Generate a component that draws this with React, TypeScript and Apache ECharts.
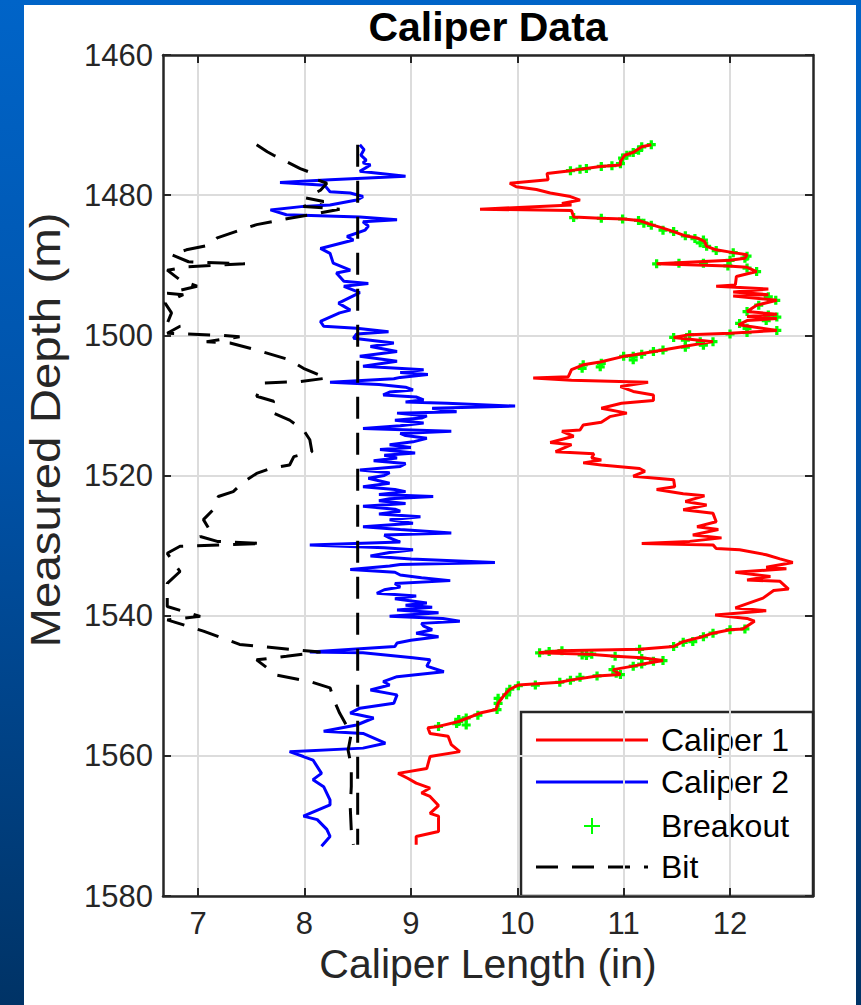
import React, { useEffect, useRef } from 'react';
import * as echarts from 'echarts';

// [caliper length (in), measured depth (m)]
const caliper1: number[][] = [
  [11.26,1472.8],[11.17,1473.1],[11.09,1473.9],[11.01,1474.3],[10.97,1475.2],[10.97,1475.7],[10.78,1475.9],[10.5,1476.5],
  [10.28,1476.9],[10.29,1477.8],[9.93,1478.3],[9.99,1478.8],[10.18,1479.2],[10.31,1479.7],[10.5,1480.2],[10.59,1480.7],
  [10.42,1481.2],[10.51,1481.4],[9.65,1482.0],[10.51,1482.2],[10.53,1483.1],[10.78,1483.3],[11.0,1483.4],[11.14,1483.6],
  [11.26,1484.2],[11.37,1484.7],[11.47,1485.2],[11.58,1485.8],[11.69,1486.1],[11.76,1486.6],[11.78,1487.3],[11.87,1487.8],
  [12.03,1488.2],[12.16,1488.5],[12.14,1489.0],[12.0,1489.3],[11.31,1489.8],[11.98,1490.1],[12.16,1490.3],[12.25,1490.9],
  [12.06,1491.6],[12.05,1492.8],[11.87,1493.0],[12.36,1493.4],[12.03,1493.8],[12.36,1494.2],[12.03,1494.4],[12.44,1495.0],
  [12.25,1495.7],[12.16,1496.6],[12.44,1497.0],[12.16,1497.3],[12.44,1497.6],[12.16,1497.9],[12.08,1498.5],[12.44,1499.3],
  [12.0,1499.7],[11.62,1499.9],[11.47,1500.3],[11.84,1500.9],[11.56,1501.6],[11.37,1502.1],[11.09,1502.8],[11.0,1503.0],
  [10.78,1503.8],[10.62,1504.2],[10.51,1504.9],[10.48,1505.9],[10.15,1506.1],[10.51,1506.4],[11.23,1506.7],[10.97,1507.3],
  [11.09,1508.0],[11.28,1508.5],[11.28,1509.3],[10.98,1509.7],[10.79,1510.4],[11.03,1511.1],[10.87,1511.6],[10.79,1512.4],
  [10.62,1512.8],[10.59,1513.5],[10.42,1513.7],[10.53,1514.4],[10.31,1515.3],[10.51,1515.6],[10.36,1516.6],[10.72,1516.9],
  [10.7,1517.5],[10.79,1517.8],[10.62,1518.2],[10.79,1518.5],[11.15,1519.0],[11.2,1519.4],[11.09,1520.1],[11.47,1520.6],
  [11.48,1521.6],[11.31,1522.0],[11.56,1522.6],[11.76,1522.9],[11.58,1523.7],[11.78,1524.2],[11.56,1524.9],[11.84,1525.4],
  [11.87,1526.6],[11.69,1527.3],[11.89,1527.7],[11.65,1528.5],[11.92,1528.9],[11.62,1529.4],[11.17,1529.7],[11.84,1529.9],
  [11.87,1530.4],[12.09,1530.6],[12.34,1531.3],[12.47,1531.9],[12.59,1532.4],[12.34,1533.1],[12.53,1533.3],[12.05,1533.8],
  [12.38,1534.4],[12.16,1534.9],[12.47,1535.1],[12.55,1536.2],[12.41,1536.4],[12.31,1537.5],[12.05,1538.9],[12.34,1539.3],
  [11.86,1539.9],[12.16,1540.4],[12.23,1540.8],[12.12,1541.9],[12.0,1542.0],[11.84,1542.5],[11.74,1543.0],[11.56,1543.7],
  [11.47,1544.4],[11.15,1544.8],[10.4,1545.0],[10.2,1545.3],[10.68,1545.5],[10.92,1545.8],[11.17,1546.0],[11.37,1546.4],
  [11.22,1546.8],[11.09,1547.2],[10.9,1547.7],[10.97,1548.4],[10.75,1548.6],[10.5,1549.2],[10.4,1549.5],[10.01,1549.9],
  [9.93,1550.5],[9.88,1551.3],[9.82,1552.5],[9.8,1553.4],[9.65,1553.9],[9.45,1555.1],[9.26,1555.8],[9.16,1556.0],
  [9.18,1556.8],[9.35,1557.2],[9.38,1558.4],[9.46,1559.4],[9.18,1560.1],[9.15,1561.8],[8.88,1562.5],[8.97,1563.2],
  [9.05,1563.9],[9.18,1564.6],[9.1,1565.3],[9.18,1565.8],[9.26,1567.1],[9.18,1568.2],[9.26,1568.6],[9.26,1570.8],
  [9.05,1571.5],[9.05,1572.7]
];

const caliper2: number[][] = [
  [8.52,1472.8],[8.56,1473.5],[8.53,1474.3],[8.58,1475.0],[8.55,1475.4],[8.62,1475.7],[8.52,1476.6],[8.95,1477.3],
  [8.24,1477.8],[7.77,1478.2],[8.19,1478.6],[8.24,1479.5],[8.43,1479.7],[8.55,1480.2],[8.49,1480.7],[8.24,1481.4],
  [7.99,1481.6],[7.68,1482.1],[7.83,1482.8],[8.52,1483.1],[8.87,1483.5],[8.55,1483.8],[8.6,1484.4],[8.57,1485.0],
  [8.4,1485.9],[8.46,1486.4],[8.15,1487.6],[8.24,1488.3],[8.27,1489.7],[8.43,1490.7],[8.3,1491.1],[8.37,1492.3],
  [8.6,1492.6],[8.37,1493.0],[8.52,1493.9],[8.32,1495.4],[8.43,1496.4],[8.33,1496.8],[8.15,1498.0],[8.18,1498.7],
  [8.49,1499.0],[8.79,1499.5],[8.49,1499.8],[8.46,1500.4],[8.84,1501.1],[8.62,1501.6],[8.87,1502.3],[8.52,1503.0],
  [8.87,1503.7],[8.55,1504.4],[9.12,1504.9],[8.9,1505.3],[9.16,1505.6],[8.9,1506.0],[8.84,1506.2],[8.24,1506.7],
  [8.7,1507.0],[8.95,1507.4],[9.02,1507.8],[8.8,1508.1],[8.74,1508.5],[9.05,1508.8],[9.12,1509.2],[8.95,1509.5],
  [9.34,1509.7],[9.98,1510.1],[9.2,1510.4],[9.43,1510.9],[8.87,1511.1],[9.15,1511.5],[9.1,1511.8],[8.85,1512.1],
  [9.12,1512.5],[8.9,1512.9],[8.55,1513.3],[9.38,1513.7],[8.9,1514.0],[8.95,1514.3],[9.15,1514.7],[9.02,1515.2],
  [8.8,1515.6],[9.0,1516.0],[8.71,1516.3],[9.04,1516.8],[8.75,1517.1],[8.87,1517.5],[8.65,1517.9],[8.95,1518.3],
  [8.9,1518.7],[8.52,1519.2],[8.8,1519.6],[8.75,1520.0],[8.6,1520.4],[8.8,1521.1],[8.55,1521.6],[8.85,1522.0],
  [8.95,1522.3],[8.7,1522.7],[9.21,1523.0],[8.8,1523.3],[8.7,1523.6],[8.95,1524.0],[8.55,1524.4],[8.85,1524.8],
  [8.9,1525.1],[8.7,1525.5],[9.09,1525.9],[8.8,1526.3],[9.02,1526.8],[8.55,1527.3],[8.9,1527.7],[9.38,1528.2],
  [8.75,1528.5],[8.8,1528.9],[8.9,1529.5],[8.05,1529.9],[8.75,1530.3],[9.02,1530.6],[8.8,1531.0],[8.62,1531.5],
  [9.0,1531.9],[9.79,1532.4],[8.9,1532.7],[8.8,1532.9],[8.43,1533.4],[8.85,1533.8],[8.9,1534.2],[9.1,1534.6],
  [9.37,1535.0],[8.85,1535.4],[8.9,1535.9],[8.75,1536.3],[8.68,1536.8],[9.05,1537.2],[8.85,1537.6],[9.15,1538.2],
  [8.95,1538.5],[9.2,1538.8],[8.87,1539.2],[9.26,1539.6],[8.8,1540.1],[9.3,1540.4],[9.46,1540.8],[9.1,1541.1],
  [9.12,1541.5],[9.2,1542.0],[9.05,1542.5],[9.26,1543.0],[9.0,1543.5],[8.87,1543.9],[8.85,1544.4],[8.05,1545.2],
  [8.55,1545.3],[9.02,1546.0],[9.18,1546.3],[9.15,1547.2],[9.31,1548.0],[8.87,1548.7],[8.74,1549.4],[8.8,1549.9],
  [8.62,1550.6],[8.87,1551.3],[8.84,1552.5],[8.52,1553.2],[8.43,1553.9],[8.65,1554.6],[8.49,1555.6],[8.18,1556.5],
  [8.55,1556.8],[8.76,1558.2],[8.55,1558.9],[7.86,1559.4],[7.99,1560.1],[8.08,1560.6],[8.16,1562.5],[8.08,1563.4],
  [8.18,1564.4],[8.24,1566.3],[8.24,1567.0],[7.99,1568.6],[8.12,1569.1],[8.21,1570.5],[8.24,1571.5],[8.16,1572.9]
];

const breakout: number[][] = [
  [11.26,1472.8],[11.17,1473.1],[11.14,1473.6],[11.09,1473.9],[11.03,1474.3],[10.99,1474.7],[10.97,1475.5],[10.89,1475.8],
  [10.79,1475.9],[10.65,1476.2],[10.59,1476.3],[10.5,1476.5],
  [10.53,1483.2],[10.79,1483.3],[10.99,1483.4],[11.14,1483.6],[11.19,1484.0],[11.26,1484.3],[11.37,1485.0],[11.47,1485.2],
  [11.58,1485.8],[11.67,1486.2],[11.75,1486.4],[11.72,1486.8],[11.78,1487.3],[11.87,1487.9],[12.03,1488.2],[12.16,1488.7],
  [12.14,1489.0],[12.0,1489.3],[11.31,1489.8],[11.52,1489.7],[11.75,1489.7],[11.98,1490.1],[12.16,1490.4],[12.25,1490.9],
  [12.36,1494.5],[12.43,1495.0],[12.27,1495.7],[12.16,1496.6],[12.36,1497.1],[12.44,1497.4],[12.34,1497.9],[12.09,1498.3],
  [12.16,1499.0],[12.44,1499.3],[12.16,1499.6],[12.0,1499.8],[11.62,1499.9],[11.47,1500.3],[11.58,1500.7],[11.72,1500.9],
  [11.84,1500.9],[11.75,1501.4],[11.58,1501.7],[11.37,1502.1],[11.28,1502.3],[11.17,1502.7],[11.09,1503.0],[11.0,1503.0],
  [11.09,1503.5],[10.79,1504.0],[10.78,1504.5],[10.62,1504.2],[10.61,1504.7],
  [12.14,1541.9],[12.0,1542.0],[11.84,1542.5],[11.75,1543.0],[11.65,1543.7],[11.56,1543.8],[11.47,1544.4],[11.15,1544.8],
  [10.42,1545.0],[10.3,1545.1],[10.21,1545.3],[10.61,1545.6],[10.65,1545.7],[10.7,1545.5],[10.92,1545.8],[11.17,1546.1],
  [11.28,1546.5],[11.37,1546.4],[11.17,1546.9],[11.09,1547.2],[10.9,1547.7],[10.93,1548.2],[10.97,1548.4],[10.75,1548.6],
  [10.59,1548.8],[10.5,1549.2],[10.4,1549.5],[10.17,1549.9],[10.01,1550.0],[9.93,1550.5],[9.9,1551.3],[9.82,1551.8],
  [9.82,1552.5],[9.81,1553.4],[9.63,1554.2],[9.52,1554.6],[9.45,1554.8],[9.45,1555.1],[9.43,1555.4],[9.52,1555.6],
  [9.26,1555.8]
];

const bitTrace: number[][] = [
  [7.55,1472.8],[7.65,1473.8],[7.71,1474.3],[7.96,1476.2],[8.08,1476.9],[8.12,1477.8],[8.21,1478.3],[8.15,1479.3],
  [8.01,1480.4],[8.18,1480.9],[7.99,1481.6],[8.33,1482.0],[8.05,1482.8],[7.86,1483.3],[7.55,1484.2],[7.39,1485.0],
  [7.18,1486.1],[7.11,1487.1],[6.89,1487.8],[6.75,1488.5],[6.91,1489.5],[7.44,1489.8],[6.91,1490.2],[6.71,1490.7],
  [6.83,1492.1],[6.99,1493.0],[6.71,1494.0],[6.86,1494.2],[6.69,1495.4],[6.75,1496.8],[6.71,1498.3],[6.83,1498.7],
  [6.71,1499.7],[6.86,1499.8],[7.21,1500.0],[7.39,1500.2],[7.08,1500.9],[7.3,1501.1],[7.55,1502.1],[7.86,1503.5],
  [7.99,1504.7],[8.21,1506.1],[7.96,1506.6],[7.61,1506.8],[7.55,1508.7],[7.71,1509.4],[7.68,1510.9],[7.86,1512.1],
  [7.99,1513.5],[8.05,1514.9],[8.07,1516.6],[7.9,1517.3],[7.86,1518.5],[7.68,1519.0],[7.55,1519.7],[7.43,1520.9],
  [7.33,1522.3],[7.19,1523.0],[7.14,1524.9],[7.05,1526.3],[7.11,1527.8],[7.02,1528.7],[7.18,1529.4],[7.61,1529.7],
  [6.83,1530.1],[6.71,1531.1],[6.83,1533.7],[6.71,1535.4],[6.71,1538.7],[7.02,1540.1],[6.71,1540.6],[7.05,1542.2],
  [7.39,1544.1],[7.93,1544.9],[8.15,1545.2],[7.83,1545.8],[7.55,1546.3],[7.74,1548.5],[8.05,1549.4],[8.24,1550.3],
  [8.29,1552.5],[8.33,1553.9],[8.4,1555.8],[8.44,1556.8],[8.41,1559.2],[8.44,1561.5],[8.44,1564.4],[8.43,1567.3],
  [8.44,1570.6],[8.46,1572.7]
];

const bitSize: number[][] = [[8.5,1472.8],[8.5,1572.7]];

const xTicks = [7, 8, 9, 10, 11, 12];
const depthTicks = [1460, 1480, 1500, 1520, 1540, 1560, 1580];
const legendNames = ['Caliper 1', 'Caliper 2', 'Breakout', 'Bit'];
const titleText = 'Caliper Data';
const xName = 'Caliper Length (in)';
const yName = 'Measured Depth (m)';

const FONT = "'Liberation Sans', Arial, Helvetica, sans-serif";
const AX = '#262626';
const RED = '#ff0000';
const BLUE = '#0000ff';
const GREEN = '#00ff00';
const X_MIN = 6.67;
const X_MAX = 12.78;
const PLUS = 'path://M-1,-0.36H1V0.36H-1Z M-0.36,-1H0.36V1H-0.36Z';

export default function App() {
  const ref = useRef<HTMLDivElement>(null);

  useEffect(() => {
    const chart = echarts.init(ref.current!, null, { renderer: 'svg' });

    const axisLine = { show: true, lineStyle: { color: AX, width: 2.5 } };
    const axisTickX = { show: true, inside: true, length: 8, customValues: xTicks, lineStyle: { color: AX, width: 2 } };
    const axisTickY = { show: true, inside: true, length: 8, customValues: depthTicks, lineStyle: { color: AX, width: 2 } };
    const grid = { show: true, lineStyle: { color: '#dcdcdc', width: 2 } };

    const lx0 = 521, ly0 = 712, lw = 292, lh = 184;
    const rowY = [740, 782, 826, 867];
    const sx0 = 536, sx1 = 648, tx = 661;

    const legendChildren: any[] = [
      { type: 'rect', shape: { x: lx0, y: ly0, width: lw, height: lh }, style: { fill: '#ffffff', stroke: AX, lineWidth: 2.5 } },
      { type: 'line', shape: { x1: sx0, y1: rowY[0], x2: sx1, y2: rowY[0] }, style: { stroke: RED, lineWidth: 3 } },
      { type: 'line', shape: { x1: sx0, y1: rowY[1], x2: sx1, y2: rowY[1] }, style: { stroke: BLUE, lineWidth: 3 } },
      { type: 'line', shape: { x1: 584, y1: rowY[2], x2: 600, y2: rowY[2] }, style: { stroke: GREEN, lineWidth: 2 } },
      { type: 'line', shape: { x1: 592, y1: rowY[2] - 8, x2: 592, y2: rowY[2] + 8 }, style: { stroke: GREEN, lineWidth: 2 } },
      { type: 'line', shape: { x1: sx0, y1: rowY[3], x2: sx1, y2: rowY[3] }, style: { stroke: '#000', lineWidth: 3, lineDash: [22, 14] } },
    ];
    legendNames.forEach((n, i) => {
      legendChildren.push({
        type: 'text', x: tx, y: rowY[i],
        style: { text: n, fontSize: 32, fontFamily: FONT, fill: '#000', align: 'left', verticalAlign: 'middle' },
      });
    });

    chart.setOption({
      animation: false,
      backgroundColor: 'transparent',
      grid: { left: 163, top: 55, width: 650, height: 841, containLabel: false },
      xAxis: [
        {
          type: 'value', position: 'bottom', min: X_MIN, max: X_MAX,
          axisLine, axisTick: axisTickX, splitLine: grid,
          axisLabel: { customValues: xTicks, fontSize: 31, color: AX, fontFamily: FONT, margin: 12,
            formatter: (v: number) => String(v) },
        },
        {
          type: 'value', position: 'top', min: X_MIN, max: X_MAX,
          axisLine, axisTick: axisTickX, splitLine: { show: false }, axisLabel: { show: false },
        },
      ],
      yAxis: [
        {
          type: 'value', position: 'left', inverse: true, min: 1460, max: 1580, interval: 20,
          axisLine, axisTick: axisTickY, splitLine: grid,
          axisLabel: { customValues: depthTicks, fontSize: 31, color: AX, fontFamily: FONT, margin: 10,
            formatter: (v: number) => String(v) },
        },
        {
          type: 'value', position: 'right', inverse: true, min: 1460, max: 1580, interval: 20,
          axisLine, axisTick: axisTickY, splitLine: { show: false }, axisLabel: { show: false },
        },
      ],
      series: [
        {
          name: legendNames[0], type: 'line', data: caliper1, xAxisIndex: 0, yAxisIndex: 0,
          symbol: 'none', showSymbol: false, lineStyle: { color: RED, width: 3 }, itemStyle: { color: RED },
        },
        {
          name: legendNames[1], type: 'line', data: caliper2, xAxisIndex: 0, yAxisIndex: 0,
          symbol: 'none', showSymbol: false, lineStyle: { color: BLUE, width: 3 }, itemStyle: { color: BLUE },
        },
        {
          name: legendNames[2], type: 'scatter', data: breakout, xAxisIndex: 0, yAxisIndex: 0,
          symbol: PLUS, symbolSize: 9, itemStyle: { color: GREEN, opacity: 1 },
        },
        {
          name: legendNames[3], type: 'line', data: bitTrace, xAxisIndex: 0, yAxisIndex: 0,
          symbol: 'none', showSymbol: false, lineStyle: { color: '#000', width: 3, type: [22, 14] },
        },
        {
          name: legendNames[3], type: 'line', data: bitSize, xAxisIndex: 0, yAxisIndex: 0,
          symbol: 'none', showSymbol: false, lineStyle: { color: '#000', width: 3, type: [22, 14] },
        },
      ],
      graphic: [
        {
          type: 'text', x: 488, y: 27,
          style: { text: titleText, fontSize: 41, fontWeight: 'bold', fontFamily: FONT, fill: '#000', align: 'center', verticalAlign: 'middle' },
        },
        {
          type: 'text', x: 488, y: 964,
          style: { text: xName, fontSize: 41, fontFamily: FONT, fill: AX, align: 'center', verticalAlign: 'middle' },
        },
        {
          type: 'text', x: 45, y: 430, rotation: Math.PI / 2, scaleX: 1.13,
          style: { text: yName, fontSize: 42, fontFamily: FONT, fill: AX, align: 'center', verticalAlign: 'middle' },
        },
        { type: 'group', children: legendChildren },
      ],
    });

    return () => chart.dispose();
  }, []);

  return (
    <div style={{ position: 'fixed', left: 0, top: 0, width: 861, height: 1005, overflow: 'hidden',
      background: 'linear-gradient(to bottom, #0064c8 0%, #0052a8 45%, #003366 100%)' }}>
      <div style={{ position: 'absolute', left: 24, top: 5, width: 832, height: 1000, background: '#ffffff' }} />
      <div ref={ref} style={{ position: 'absolute', left: 0, top: 0, width: 861, height: 1005 }} />
    </div>
  );
}
